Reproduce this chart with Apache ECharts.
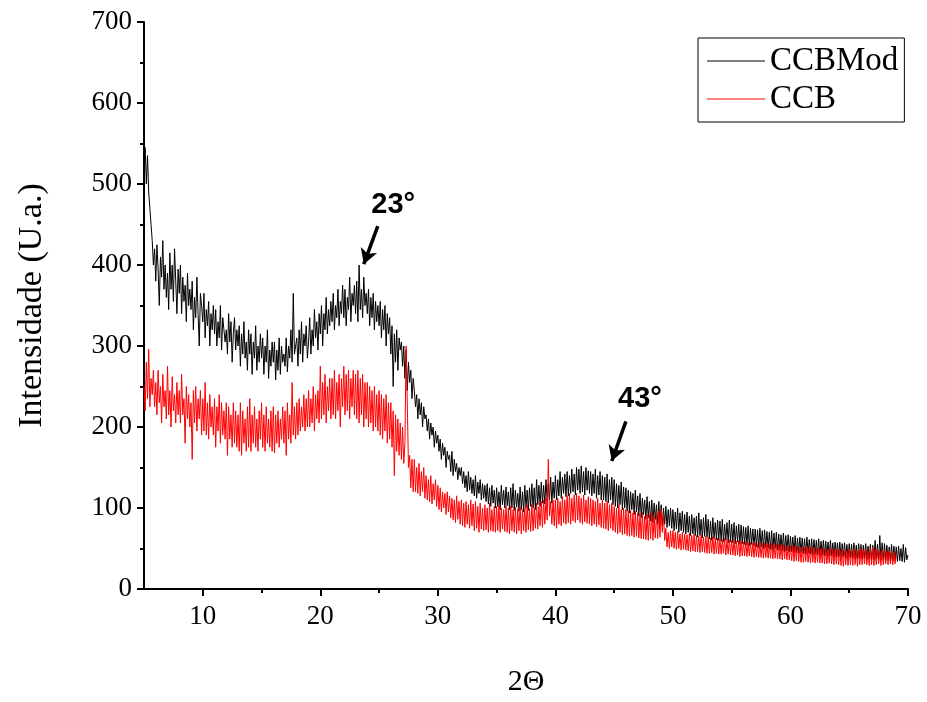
<!DOCTYPE html>
<html>
<head>
<meta charset="utf-8">
<script src="https://cdn.jsdelivr.net/npm/echarts@6/dist/echarts.min.js"></script>
<style>html,body{margin:0;padding:0;background:#fff}#c{width:927px;height:702px}</style>
</head>
<body>
<div id="c"></div>
<script>
// 2θ sampling grid (degrees)
const angleStart = 5;
const angleStep = 0.1;

// CCBMod intensities, 5.0° .. 70.0° (10 samples per degree)
const ccbModValues = [
  520,545,500,535,490,470,450,430,400,420, // 5
  380,425,395,350,410,385,430,370,400,360, // 6
  390,345,415,370,400,355,420,380,340,395, // 7
  365,400,340,385,355,375,330,390,350,370, // 8
  345,380,320,360,335,385,340,300,365,350, // 9
  330,365,310,345,325,355,300,340,320,350, // 10
  315,345,300,330,310,350,295,335,320,305, // 11
  320,290,340,305,330,280,315,335,295,320, // 12
  300,325,275,315,290,330,285,305,270,320, // 13
  290,315,265,305,285,325,270,300,280,315, // 14
  285,310,265,300,280,320,260,295,275,305, // 15
  280,305,258,295,270,310,265,300,280,290, // 16
  275,310,268,300,285,320,280,365,290,300, // 17
  310,275,320,290,330,280,315,300,325,285, // 18
  305,335,290,320,300,345,310,330,295,340, // 19
  315,350,300,340,320,360,315,345,325,355, // 20
  330,365,320,350,335,370,325,355,340,375, // 21
  335,370,325,360,345,385,330,365,350,375, // 22
  340,380,330,400,345,370,335,385,350,365, // 23
  340,370,325,360,335,365,320,355,330,350, // 24
  325,355,310,345,320,350,300,340,315,335, // 25
  290,325,250,315,280,320,270,310,295,305, // 26
  275,300,260,295,245,280,255,270,235,260, // 27
  245,225,240,210,235,215,230,200,225,210, // 28
  215,195,210,185,205,190,200,175,195,180, // 29
  190,170,185,160,180,165,175,150,170,160, // 30
  165,145,170,140,160,145,155,135,150,140, // 31
  150,130,145,125,140,120,145,122,138,118, // 32
  135,115,140,112,132,118,135,110,130,112, // 33
  128,108,130,105,125,102,128,106,122,100, // 34
  125,102,120,98,128,104,122,100,126,103,  // 35
  120,98,125,100,130,97,122,101,118,96,    // 36
  126,98,120,95,128,100,122,97,125,102,    // 37
  130,100,125,98,135,104,128,102,132,106,  // 38
  128,105,135,108,130,110,138,106,132,112, // 39
  140,110,135,115,145,112,138,118,142,114, // 40
  145,115,140,118,148,120,142,116,150,122, // 41
  148,118,152,120,145,116,150,122,146,118, // 42
  145,115,142,118,148,112,140,116,145,110, // 43
  140,110,138,108,142,106,135,110,138,104, // 44
  135,102,130,100,128,104,132,98,126,100,  // 45
  125,96,122,94,120,98,118,92,122,95,      // 46
  115,90,118,88,112,92,110,86,114,88,      // 47
  108,84,110,82,106,86,104,80,108,82,      // 48
  104,78,100,80,102,76,98,78,100,75,       // 49
  98,72,95,74,100,70,94,72,96,70,          // 50
  92,68,95,70,90,66,92,68,88,66,           // 51
  90,64,94,66,86,63,88,65,92,64,           // 52
  86,62,84,60,88,62,82,61,85,60,           // 53
  84,59,86,58,80,60,82,57,85,58,           // 54
  80,57,82,56,78,58,80,55,79,56,           // 55
  77,55,76,54,78,53,75,55,74,53,           // 56
  74,52,73,51,75,52,72,50,73,51,           // 57
  71,50,70,49,72,48,69,50,70,48,           // 58
  68,48,67,47,69,46,66,47,67,46,           // 59
  65,46,64,45,66,45,63,44,64,45,           // 60
  63,44,62,43,64,44,61,43,62,42,           // 61
  61,43,60,42,62,41,59,42,60,41,           // 62
  59,41,58,40,60,41,57,40,58,40,           // 63
  57,40,58,39,56,40,57,38,55,39,           // 64
  56,39,55,38,57,38,54,37,56,38,           // 65
  55,37,54,38,56,36,53,37,55,36,           // 66
  54,36,60,37,55,35,66,36,57,35,           // 67
  56,35,54,36,52,35,55,34,53,35,           // 68
  52,34,53,35,50,34,55,33,51,36,           // 69
  42                                       // 70
];

// CCB intensities, 5.0° .. 69.0° (10 samples per degree)
const ccbValues = [
  250,220,280,235,296,225,260,240,270,225, // 5
  255,215,270,230,250,205,265,225,245,210, // 6
  275,215,245,200,262,220,240,205,255,215, // 7
  245,205,265,215,235,180,250,210,240,200, // 8
  230,160,245,205,250,195,235,210,245,190, // 9
  235,195,255,190,230,185,240,200,225,190, // 10
  235,175,225,195,240,180,230,190,220,185, // 11
  230,165,225,185,215,175,230,180,220,175, // 12
  215,170,230,165,220,180,210,170,225,175, // 13
  235,170,215,180,225,175,210,170,220,185, // 14
  230,175,215,170,225,180,210,175,220,170, // 15
  225,168,215,180,220,175,210,185,225,180, // 16
  220,165,230,185,215,180,255,190,225,185, // 17
  230,190,235,195,225,200,240,195,235,200, // 18
  245,200,235,205,250,195,240,210,245,205, // 19
  275,210,255,215,265,205,250,220,260,210, // 20
  260,215,270,210,255,220,265,200,260,225, // 21
  275,215,265,220,270,210,260,225,270,215, // 22
  265,210,270,205,260,215,265,200,255,210, // 23
  255,200,250,205,245,195,250,200,240,195, // 24
  245,190,240,185,235,195,240,180,230,185, // 25
  230,175,220,140,215,170,210,165,205,160, // 26
  200,155,180,300,230,150,165,125,160,120, // 27
  160,120,150,118,155,115,145,120,150,112, // 28
  140,110,135,108,140,105,130,110,135,102, // 29
  128,98,125,95,120,100,118,92,120,95,     // 30
  115,88,112,85,110,82,115,86,108,80,      // 31
  110,78,106,76,108,80,104,75,110,78,      // 32
  105,72,108,75,102,70,106,74,100,72,      // 33
  104,73,100,70,106,72,98,71,102,70,       // 34
  102,72,104,70,100,74,98,71,103,70,       // 35
  100,68,102,72,98,70,101,68,99,72,        // 36
  102,68,98,72,100,70,104,73,99,71,        // 37
  105,72,100,75,106,74,102,78,108,76,      // 38
  110,80,112,85,160,90,108,80,110,78,      // 39
  110,75,112,80,108,78,114,82,110,80,      // 40
  115,82,118,80,112,84,116,82,118,85,      // 41
  115,82,112,80,116,83,110,81,114,80,      // 42
  112,78,110,80,108,77,112,79,106,76,      // 43
  110,75,106,74,108,72,104,75,106,72,      // 44
  102,70,100,68,104,70,98,67,100,68,       // 45
  98,66,96,65,97,66,94,64,96,65,           // 46
  94,63,92,62,95,62,90,61,92,60,           // 47
  92,62,95,60,90,63,94,62,96,64,           // 48
  98,70,92,60,75,52,70,50,72,52,           // 49
  72,50,70,49,71,50,68,48,70,49,           // 50
  68,48,67,47,69,46,66,47,68,46,           // 51
  66,46,65,45,67,46,64,45,65,44,           // 52
  64,44,63,45,65,43,62,44,63,43,           // 53
  62,43,61,44,63,42,60,43,61,42,           // 54
  60,42,61,41,59,42,60,40,59,41,           // 55
  58,41,59,40,57,41,58,40,57,39,           // 56
  57,40,56,39,58,39,56,38,57,39,           // 57
  56,38,55,38,57,37,55,38,56,37,           // 58
  55,37,54,36,55,37,53,36,54,36,           // 59
  53,35,54,34,52,35,53,34,52,33,           // 60
  52,33,51,34,53,33,50,32,52,33,           // 61
  51,32,50,33,52,32,49,32,50,31,           // 62
  50,31,49,32,51,31,48,30,50,31,           // 63
  49,30,48,29,50,28,48,30,47,29,           // 64
  49,30,48,29,50,30,47,28,49,30,           // 65
  50,30,48,31,49,30,47,29,50,30,           // 66
  52,29,48,30,50,31,47,29,49,30,           // 67
  47,31,46,30,48,31,45,30,46,31,           // 68
  44                                       // 69
];

const seriesNames = ['CCBMod', 'CCB'];
const xMajorTicks = [10, 20, 30, 40, 50, 60, 70];
const xMinorTicks = [15, 25, 35, 45, 55, 65];
const peakLabels = ['23°', '43°'];

const toPairs = vals => vals.map((v, i) => [+(angleStart + i * angleStep).toFixed(2), v]);

const serif = "'Times New Roman','Liberation Serif',serif";
const sans = "Arial,'Liberation Sans',sans-serif";

const chart = echarts.init(document.getElementById('c'), null, {renderer: 'canvas'});
chart.setOption({
  animation: false,
  backgroundColor: '#fff',
  grid: {left: 144, right: 19, top: 22, bottom: 112, containLabel: false},
  legend: {
    data: seriesNames,
    orient: 'vertical',
    left: 698, top: 38,
    padding: [4, 6, 4, 9],
    itemGap: 0,
    itemWidth: 58,
    itemHeight: 1,
    icon: 'rect',
    borderColor: '#000',
    borderWidth: 1,
    textStyle: {fontFamily: serif, fontSize: 33, color: '#000', lineHeight: 38}
  },
  xAxis: [{
    type: 'value', min: 5, max: 70, interval: 5,
    name: '2Θ', nameLocation: 'middle', nameGap: 78,
    nameTextStyle: {fontFamily: serif, fontSize: 30, color: '#000'},
    axisLine: {show: true, onZero: false, lineStyle: {color: '#000', width: 2}},
    axisTick: {show: true, inside: false, length: 7, lineStyle: {color: '#000', width: 2}, customValues: xMajorTicks},
    axisLabel: {fontFamily: serif, fontSize: 27, color: '#000', margin: 14, customValues: xMajorTicks},
    splitLine: {show: false}
  }, {
    type: 'value', min: 5, max: 70, interval: 5, gridIndex: 0, position: 'bottom',
    axisLine: {show: false},
    axisTick: {show: true, inside: false, length: 4, lineStyle: {color: '#000', width: 2}, customValues: xMinorTicks},
    axisLabel: {show: false},
    splitLine: {show: false}
  }],
  yAxis: {
    type: 'value', min: 0, max: 700, interval: 100,
    name: 'Intensidade (U.a.)', nameLocation: 'middle', nameGap: 95,
    nameTextStyle: {fontFamily: serif, fontSize: 34, color: '#000'},
    axisLine: {show: true, lineStyle: {color: '#000', width: 2}},
    axisTick: {show: true, inside: false, length: 7, lineStyle: {color: '#000', width: 2}},
    minorTick: {show: true, splitNumber: 2, length: 4, lineStyle: {color: '#000', width: 2}},
    axisLabel: {fontFamily: serif, fontSize: 27, color: '#000', margin: 12},
    splitLine: {show: false}
  },
  series: [{
    name: seriesNames[0], type: 'line', xAxisIndex: 0,
    data: toPairs(ccbModValues),
    symbol: 'none', lineStyle: {color: '#000', width: 1}, itemStyle: {color: '#000'},
    z: 2,
    markLine: {
      silent: true, symbol: ['none', 'arrow'], symbolSize: [13, 15],
      lineStyle: {color: '#000', width: 3.5, type: 'solid'},
      label: {show: false},
      data: [
        [{coord: [24.89, 448]}, {coord: [23.7, 401]}],
        [{coord: [46.0, 207]}, {coord: [44.8, 158]}]
      ]
    },
    markPoint: {
      silent: true, symbol: 'rect', symbolSize: 1, itemStyle: {color: 'rgba(0,0,0,0)'},
      label: {show: true, position: 'inside', formatter: '{b}', fontFamily: sans, fontWeight: 'bold', fontSize: 29, color: '#000'},
      data: [
        {name: peakLabels[0], coord: [26.2, 474]},
        {name: peakLabels[1], coord: [47.2, 234]}
      ]
    }
  }, {
    name: seriesNames[1], type: 'line', xAxisIndex: 0,
    data: toPairs(ccbValues),
    symbol: 'none', lineStyle: {color: '#ff0000', width: 1}, itemStyle: {color: '#ff0000'},
    z: 3
  }]
});
</script>
</body>
</html>
